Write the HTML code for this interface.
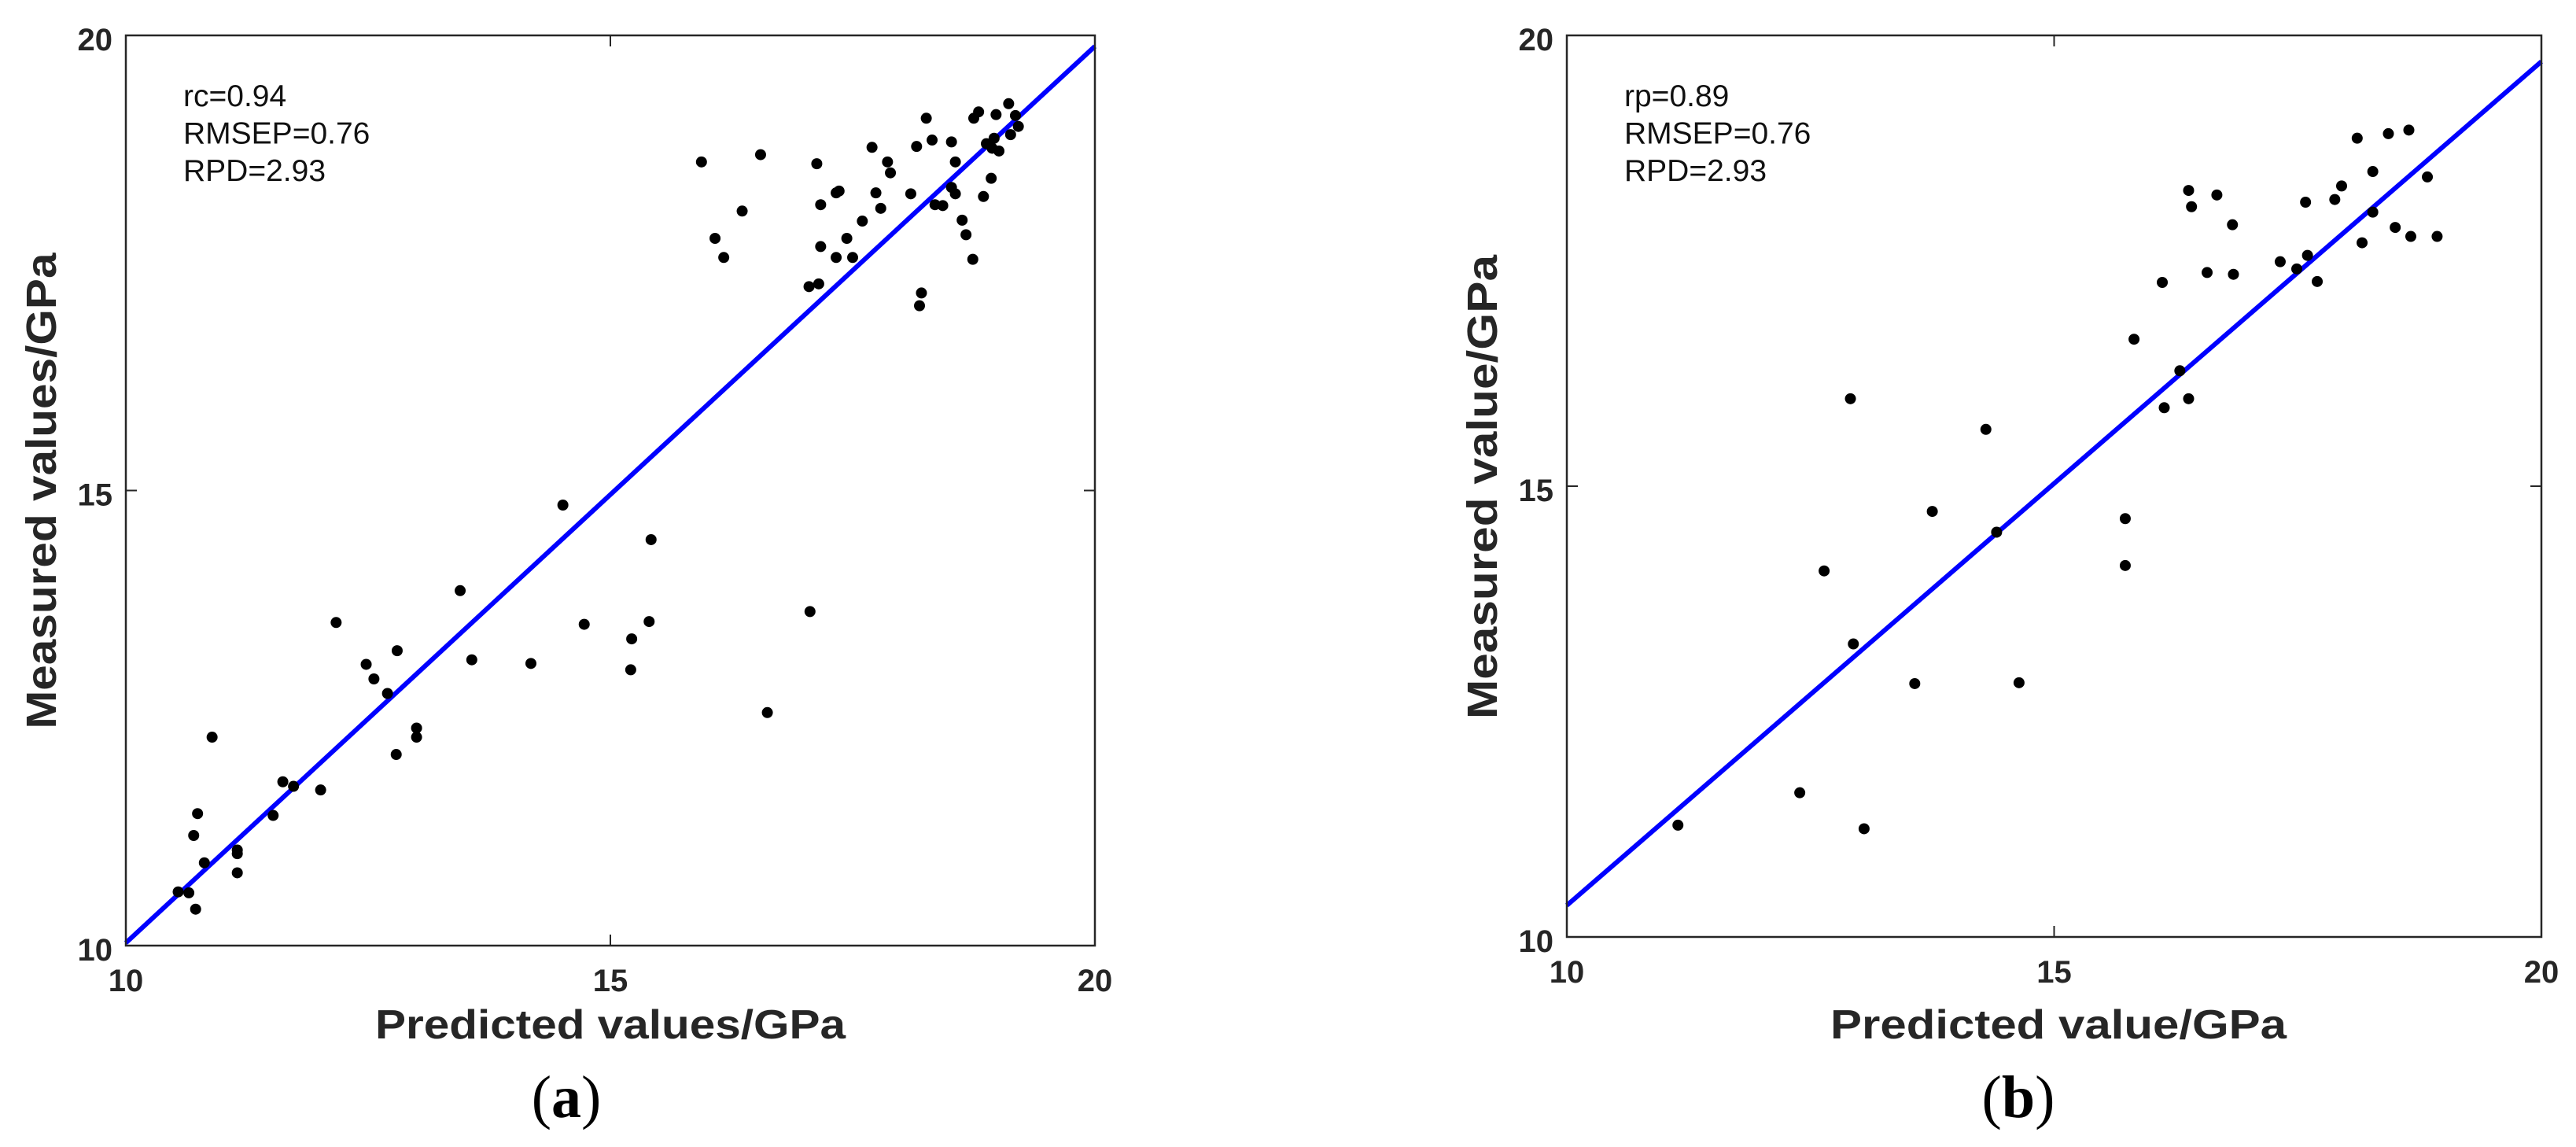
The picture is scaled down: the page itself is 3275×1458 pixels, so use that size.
<!DOCTYPE html>
<html><head><meta charset="utf-8"><style>
html,body{margin:0;padding:0;background:#fff;}
svg{display:block;}
text{font-family:"Liberation Sans",sans-serif;}
</style></head><body>
<svg id="fig" width="3275" height="1458" viewBox="0 0 3275 1458" xmlns="http://www.w3.org/2000/svg">
<rect width="3275" height="1458" fill="#fff"/>
</svg>
<script>
// Panel (a) data
const aPred = [15.94,16.55,16.08,16.17,16.36,17.13,17.17,17.17,17.05,17.15,17.33,17.36,17.33,17.44,17.50,17.60,17.70,17.74,17.79,17.86,17.89,18.10,18.16,18.21,18.19,18.26,18.32,18.35,18.43,18.52,18.52,18.56,18.56,18.63,18.67,18.74,18.75,18.80,18.85,18.88,18.93,18.96,18.98,19.01,19.11,19.13,19.18,19.21,18.94,
14.51,15.42,13.45,17.06,15.40,14.73,15.22,15.21,14.18,13.57,16.62,12.17,12.80,12.48,12.56,12.70,13.00,13.00,12.79,10.89,11.62,11.73,12.01,11.52,10.74,10.70,10.81,11.15,11.15,11.15,10.54,10.65,10.72];
const aMeas = [18.61,18.69,17.77,17.56,18.07,18.59,18.14,17.68,17.24,17.27,18.27,18.29,17.56,17.77,17.56,17.96,18.77,18.27,18.10,18.61,18.49,18.26,18.78,17.17,17.03,19.09,18.85,18.14,18.13,18.83,18.33,18.61,18.26,17.97,17.81,17.54,19.09,19.16,18.23,18.81,18.43,18.87,19.13,18.73,19.25,18.91,19.12,19.00,18.76,
14.84,14.46,13.90,13.67,13.56,13.53,13.37,13.03,13.10,13.14,12.56,13.55,13.24,13.09,12.93,12.77,12.39,12.29,12.10,12.29,11.80,11.75,11.71,11.43,11.45,11.21,10.91,11.05,11.01,10.80,10.59,10.58,10.40];
const aFit = [10.03, 19.88];
const aStats = ["rc=0.94","RMSEP=0.76","RPD=2.93"];
// Panel (b) data
const bPred = [11.14,12.39,13.05,12.64,12.91,12.94,13.57,13.75,14.30,14.41,14.64,15.73,15.73,15.82,16.11,16.13,16.29,16.38,16.38,16.41,16.57,16.67,16.83,16.84,17.32,17.49,17.58,17.60,17.70,17.88,17.95,18.11,18.16,18.27,18.27,18.43,18.50,18.64,18.66,18.83,18.93];
const bMeas = [11.24,11.60,11.20,14.06,15.97,13.25,12.81,14.72,15.63,14.49,12.82,14.64,14.12,16.63,17.26,15.87,16.28,15.97,18.28,18.10,17.37,18.23,17.90,17.35,17.49,17.41,18.15,17.56,17.27,18.18,18.33,18.86,17.70,18.49,18.04,18.91,17.87,18.95,17.77,18.43,17.77];
const bFit = [10.35, 19.71];
const bStats = ["rp=0.89","RMSEP=0.76","RPD=2.93"];
const ticks = [10,15,20];
const tickLabels = ["10","15","20"];

const NS="http://www.w3.org/2000/svg";
const svg=document.getElementById('fig');
function mk(tag,attrs,parent){const e=document.createElementNS(NS,tag);for(const k in attrs)e.setAttribute(k,attrs[k]);(parent||svg).appendChild(e);return e;}

function panel(cfg){
  const g=mk('g',{});
  
  
  const L=cfg.L,R=cfg.R,T=cfg.T,B=cfg.B;
  const sx=v=>L+(v-10)/10*(R-L);
  const sy=v=>B-(v-10)/10*(B-T);
  ticks.forEach((t,i)=>{
    const x=sx(t),y=sy(t);
    mk('line',{x1:x,y1:B,x2:x,y2:B-14,stroke:'#262626','stroke-width':2},g);
    mk('line',{x1:x,y1:T,x2:x,y2:T+14,stroke:'#262626','stroke-width':2},g);
    mk('line',{x1:L,y1:y,x2:L+14,y2:y,stroke:'#262626','stroke-width':2},g);
    mk('line',{x1:R,y1:y,x2:R-14,y2:y,stroke:'#262626','stroke-width':2},g);
    const xt=mk('text',{x:x,y:B+58,'text-anchor':'middle','font-size':40,'font-weight':'bold',fill:'#262626'},g);
    xt.textContent=tickLabels[i];
    
    
    const yt=mk('text',{x:L-17,y:y+19,'text-anchor':'end','font-size':40,'font-weight':'bold',fill:'#262626'},g);
    yt.textContent=tickLabels[i];
    
    
  });
  const ln=mk('line',{x1:sx(10),y1:sy(cfg.fit[0]),x2:sx(20),y2:sy(cfg.fit[1]),stroke:'#0000ff','stroke-width':6},g);
  
  
  cfg.px.forEach((v,i)=>{
    const c=mk('circle',{cx:sx(v),cy:sy(cfg.py[i]),r:7,fill:'#000'},g);
    
    
  });
  const box=mk('rect',{x:L,y:T,width:R-L,height:B-T,fill:'none',stroke:'#262626','stroke-width':2.5},g);
  
  
  cfg.stats.forEach((s,i)=>{
    const t=mk('text',{x:L+73,y:T+90+i*47.5,'font-size':39,fill:'#111'},g);
    t.textContent=s;
    
    
  });
  const xtT=mk('text',{x:cfg.xtx,y:1320,'text-anchor':'middle','font-size':52,'font-weight':'bold',fill:'#262626',textLength:cfg.xtw,lengthAdjust:'spacingAndGlyphs'},g);
  xtT.textContent=cfg.xTitle;
  
  
  const ytT=mk('text',{x:0,y:0,'text-anchor':'middle','font-size':54,'font-weight':'bold',fill:'#262626',textLength:cfg.ytw,lengthAdjust:'spacingAndGlyphs',transform:`translate(${cfg.ytx},${cfg.yty}) rotate(-90)`},g);
  ytT.textContent=cfg.yTitle;
  
  
  const lab=mk('text',{x:cfg.labx,y:1420,'text-anchor':'middle','font-size':76,fill:'#000'},g);
  lab.setAttribute('style','font-family:"Liberation Serif",serif');
  lab.textContent=cfg.label[0];
  const tsp=mk('tspan',{'font-weight':'bold'},lab);
  tsp.textContent=cfg.label[1];
  lab.appendChild(document.createTextNode(cfg.label[2]));
  
  
}
panel({id:'panel-a',L:160,R:1392,T:45,B:1202,px:aPred,py:aMeas,fit:aFit,stats:aStats,
  xTitle:'Predicted values/GPa',xtx:776,xtw:598,yTitle:'Measured values/GPa',ytx:71,yty:624,ytw:605,labx:720,label:['(','a',')']});
panel({id:'panel-b',L:1992,R:3231,T:45,B:1191,px:bPred,py:bMeas,fit:bFit,stats:bStats,
  xTitle:'Predicted value/GPa',xtx:2617,xtw:580,yTitle:'Measured value/GPa',ytx:1903,yty:619,ytw:590,labx:2566,label:['(','b',')']});
</script>
</body></html>
